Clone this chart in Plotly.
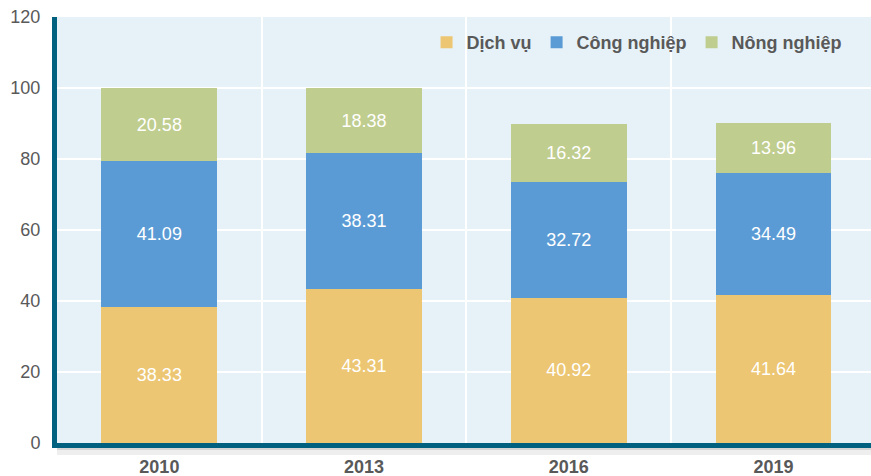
import plotly.graph_objects as go

years = ["2010", "2013", "2016", "2019"]
dich_vu = [38.33, 43.31, 40.92, 41.64]
cong_nghiep = [41.09, 38.31, 32.72, 34.49]
nong_nghiep = [20.58, 18.38, 16.32, 13.96]

series = [
    ("Dịch vụ", dich_vu, "#ECC672"),
    ("Công nghiệp", cong_nghiep, "#5B9BD5"),
    ("Nông nghiệp", nong_nghiep, "#BFCD8F"),
]

fig = go.Figure()
for name, vals, color in series:
    fig.add_trace(go.Bar(
        x=years, y=vals, name=name,
        marker=dict(color=color, line=dict(width=0)),
        text=[f"{v:.2f}" for v in vals],
        textposition="inside", insidetextanchor="middle",
        textfont=dict(color="white", size=18, family="Liberation Sans"),
        width=0.566,
    ))

# soft shadow below the x axis line
fig.add_shape(type="rect", xref="paper", yref="paper", x0=0, x1=1,
              ysizemode="pixel", yanchor=0, y0=-3, y1=-7,
              fillcolor="#D5D5D5", line=dict(width=0), layer="below")
fig.add_shape(type="rect", xref="paper", yref="paper", x0=0, x1=1,
              ysizemode="pixel", yanchor=0, y0=-7, y1=-12,
              fillcolor="#EEEEEE", line=dict(width=0), layer="below")

fig.update_layout(
    barmode="stack",
    width=871, height=476,
    margin=dict(l=57, r=0, t=17, b=33),
    paper_bgcolor="white",
    plot_bgcolor="#E7F2F8",
    font=dict(family="Liberation Sans", color="#595959"),
    showlegend=True,
    legend=dict(
        orientation="h", x=0.97, xanchor="right", y=0.94, yanchor="middle",
        bgcolor="rgba(0,0,0,0)",
        font=dict(size=18, color="#595959", family="Liberation Sans", weight="bold"),
        traceorder="normal", itemwidth=30,
    ),
    xaxis=dict(
        type="category", range=[-0.5, 3.476],
        tickson="boundaries", showgrid=True, gridcolor="white", gridwidth=2,
        ticks="", showline=True, linecolor="#00607F", linewidth=5,
        tickfont=dict(size=18, color="#595959", weight="bold"),
        ticklabelstandoff=3,
    ),
    yaxis=dict(
        range=[0, 120], tickvals=[0, 20, 40, 60, 80, 100, 120],
        showgrid=True, gridcolor="white", gridwidth=2,
        showline=True, linecolor="#00607F", linewidth=5,
        ticks="", tickfont=dict(size=18, color="#595959"),
        zeroline=False, ticklabelstandoff=8,
    ),
)

fig.write_html("out.html", config={"displayModeBar": False},
               post_script="document.body.style.margin='0';document.body.style.overflow='hidden';")
